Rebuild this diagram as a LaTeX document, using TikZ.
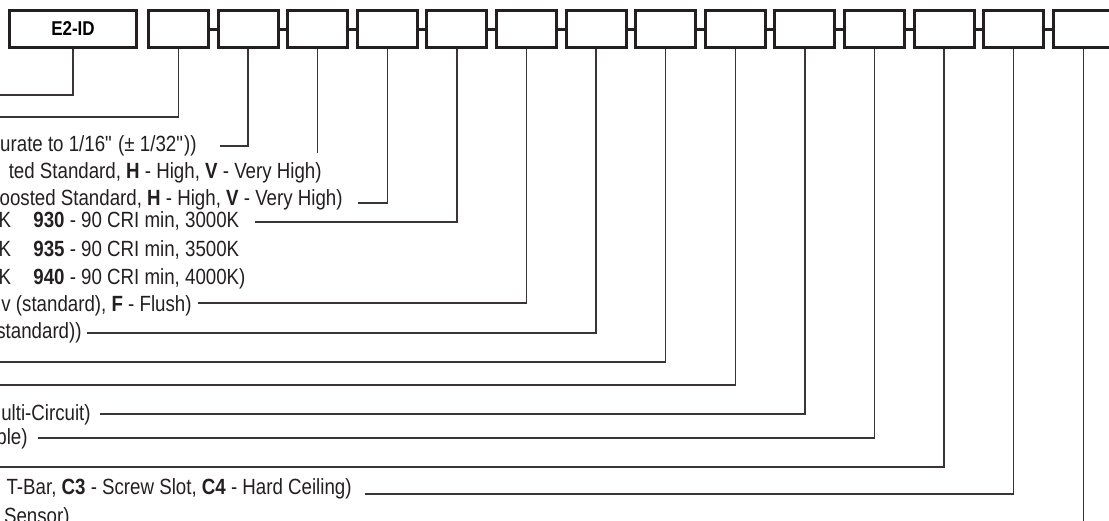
\documentclass[tikz,border=0pt]{standalone}
\usepackage{fontspec}
\setmainfont[FakeStretch=0.85]{Liberation Sans}
\usetikzlibrary{positioning}
\definecolor{ink}{HTML}{231F20}
\tikzstyle{codebox} = [rectangle, draw=ink, line width=1.5pt, minimum width=30pt, minimum height=18.5pt, inner sep=0pt, font=\fontsize{10}{12}\selectfont\bfseries]
\tikzstyle{link} = [draw=ink, line width=1.5pt]
\tikzstyle{wire} = [draw=ink!90, line width=0.75pt]
\tikzstyle{optext} = [inner sep=0pt, anchor=base east, text=ink, font=\fontsize{11}{13}\selectfont]

\begin{document}
\begin{tikzpicture}[x=0.5pt, y=-0.5pt]
\useasboundingbox (0,0) rectangle (1109,520);
\clip (0,0) rectangle (1109,520);

% code boxes
\node (e2id) [codebox, minimum width=63.5pt] at (73,29) {E2-ID};
\node (b1) [codebox] at (178.5,29) {};
\foreach \i [count=\j from 1] in {2,...,14}
  \node (b\i) [codebox, right=3.3pt of b\j] {};
\foreach \i [count=\j from 1] in {2,...,14}
  \draw [link] (b\j.east) -- (b\i.west);

% option texts
\node (tolerance) [optext] at (197,151) {urate to 1/16\textquotedbl{} (± 1/32\textquotedbl))};
\node (lens) [optext] at (322,178) {ted Standard, \textbf{H} - High, \textbf{V} - Very High)};
\node (output) [optext] at (343,205) {oosted Standard, \textbf{H} - High, \textbf{V} - Very High)};
\node (kA) [optext] at (11.5,227) {K};
\node (kB) [optext] at (11.5,256) {K};
\node (kC) [optext] at (11.5,284) {K};
\node (cri930) [optext, anchor=base west] at (33,227) {\textbf{930} - 90 CRI min, 3000K};
\node (cri935) [optext, anchor=base west] at (33,256) {\textbf{935} - 90 CRI min, 3500K};
\node (cri940) [optext, anchor=base west] at (33,284) {\textbf{940} - 90 CRI min, 4000K)};
\node (trim) [optext] at (192,311) {v (standard), \textbf{F} - Flush)};
\node (finish) [optext] at (82,338) {standard))};
\node (circuit) [optext] at (91,420) {ulti-Circuit)};
\node (cable) [optext] at (28,444) {ble)};
\node (mount) [optext] at (352,494) {T-Bar, \textbf{C3} - Screw Slot, \textbf{C4} - Hard Ceiling)};
\node (sensor) [optext] at (70,523) {Sensor)};

% free ends
\coordinate (endA) at (-5,95);
\coordinate (endB) at (-5,117);
\coordinate (lensend) at (0,153);
\coordinate (endC) at (-5,362);
\coordinate (endD) at (-5,385);
\coordinate (endE) at (-5,467);
\coordinate (endF) at (0,530);

% connectors
\draw [wire] (e2id.south) |- (endA);
\draw [wire] (b1.south) |- (endB);
\draw [wire] (b2.south) |- ([xshift=11.5pt,yshift=2.5pt]tolerance.base east);
\draw [wire] (b3.south) -- (b3.south |- lensend);
\draw [wire] (b4.south) |- ([xshift=7.5pt,yshift=1pt]output.base east);
\draw [wire] (b5.south) |- ([xshift=7.5pt,yshift=2.5pt]cri930.base east);
\draw [wire] (b6.south) |- ([xshift=3pt,yshift=4pt]trim.base east);
\draw [wire] (b7.south) |- ([xshift=2.5pt,yshift=2.5pt]finish.base east);
\draw [wire] (b8.south) |- (endC);
\draw [wire] (b9.south) |- (endD);
\draw [wire] (b10.south) |- ([xshift=4.5pt,yshift=3pt]circuit.base east);
\draw [wire] (b11.south) |- ([xshift=5pt,yshift=3pt]cable.base east);
\draw [wire] (b12.south) |- (endE);
\draw [wire] (b13.south) |- ([xshift=6.5pt]mount.base east);
\draw [wire] (b14.south) -- (b14.south |- endF);

\end{tikzpicture}
\end{document}
